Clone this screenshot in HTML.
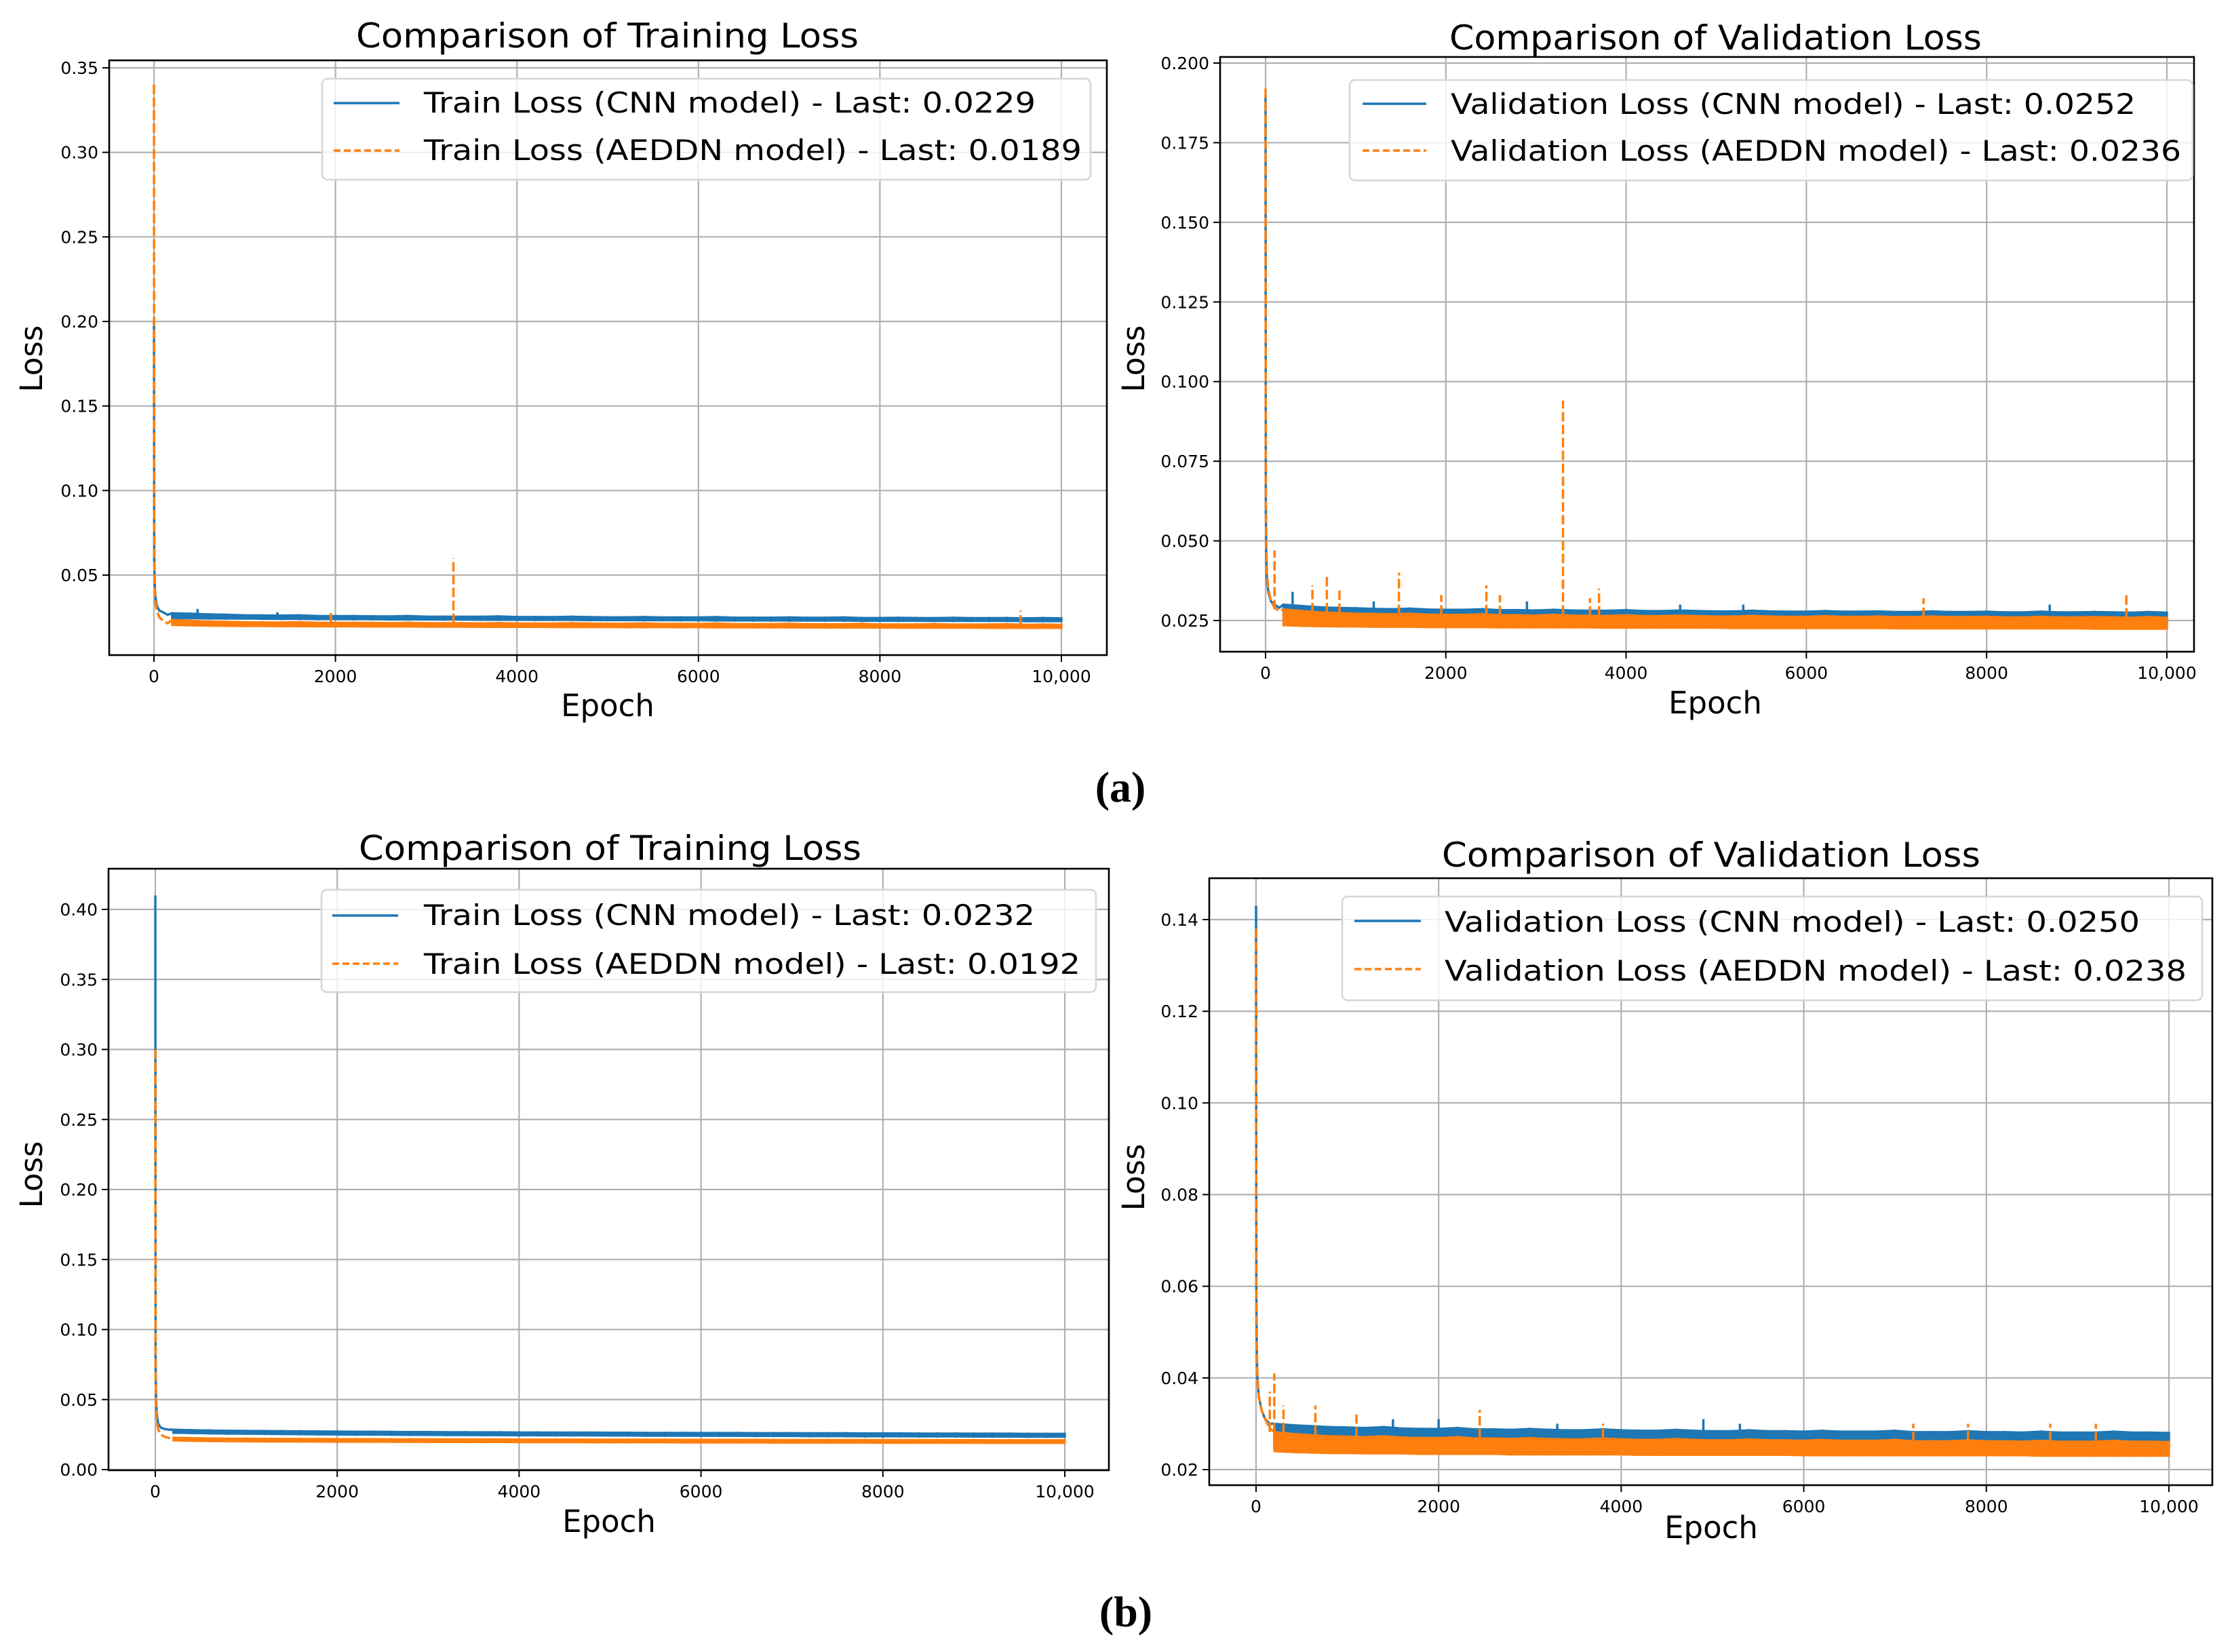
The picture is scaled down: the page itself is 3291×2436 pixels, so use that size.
<!DOCTYPE html>
<html><head><meta charset="utf-8"><style>
html,body{margin:0;padding:0;background:#fff;}
svg{display:block;font-family:"DejaVu Sans","Liberation Sans",sans-serif;}
</style></head><body>
<svg id="fig" width="3291" height="2436" viewBox="0 0 3291 2436" xmlns="http://www.w3.org/2000/svg">
<rect width="3291" height="2436" fill="#fff"/>
<text x="1652" y="1182" font-family="Liberation Serif,serif" font-weight="bold" font-size="64" text-anchor="middle">(a)</text>
<text x="1660" y="2398" font-family="Liberation Serif,serif" font-weight="bold" font-size="64" text-anchor="middle">(b)</text>
</svg>
<script>
// ---------- shared tick values ----------
const xTicks = [0, 2000, 4000, 6000, 8000, 10000];
const xTickLabels = ["0", "2000", "4000", "6000", "8000", "10,000"];
const headEpochs = [0, 3, 8, 15, 30, 60, 100, 150];
const bandEpochs = [200,400,600,800,1000,1200,1400,1600,1800,2000,2200,2400,2600,2800,3000,3200,3400,3600,3800,4000,4200,4400,4600,4800,5000,5200,5400,5600,5800,6000,6200,6400,6600,6800,7000,7200,7400,7600,7800,8000,8200,8400,8600,8800,9000,9200,9400,9600,9800,10000];

// ---------- (a) training ----------
const aTrainYTicks = [0.05, 0.10, 0.15, 0.20, 0.25, 0.30, 0.35];
const aTrainYLabels = ["0.05", "0.10", "0.15", "0.20", "0.25", "0.30", "0.35"];
const aTrainCnnHead = [0.20, 0.06, 0.045, 0.038, 0.032, 0.029, 0.028, 0.0265];
const aTrainAeHead = [0.34, 0.08, 0.045, 0.035, 0.029, 0.025, 0.023, 0.0215];
const aTrainCnnLo = [0.0245,0.0244,0.0243,0.0242,0.0242,0.0241,0.0240,0.0240,0.0239,0.0239,0.0238,0.0238,0.0237,0.0237,0.0237,0.0236,0.0236,0.0235,0.0235,0.0235,0.0234,0.0234,0.0234,0.0233,0.0233,0.0233,0.0232,0.0232,0.0232,0.0232,0.0231,0.0231,0.0231,0.0231,0.0230,0.0230,0.0230,0.0230,0.0229,0.0229,0.0229,0.0229,0.0228,0.0228,0.0228,0.0228,0.0228,0.0227,0.0227,0.0227];
const aTrainCnnHi = [0.0275,0.0272,0.0268,0.0266,0.0263,0.0262,0.0261,0.0263,0.0259,0.0258,0.0258,0.0257,0.0256,0.0259,0.0255,0.0255,0.0254,0.0254,0.0256,0.0253,0.0253,0.0252,0.0254,0.0252,0.0251,0.0251,0.0253,0.0250,0.0250,0.0250,0.0252,0.0249,0.0249,0.0249,0.0250,0.0248,0.0248,0.0250,0.0247,0.0247,0.0248,0.0247,0.0246,0.0248,0.0246,0.0246,0.0247,0.0245,0.0247,0.0245];
const aTrainAeLo = [0.0205,0.0202,0.0200,0.0199,0.0198,0.0198,0.0197,0.0197,0.0196,0.0196,0.0196,0.0195,0.0195,0.0195,0.0194,0.0194,0.0194,0.0193,0.0193,0.0193,0.0193,0.0192,0.0192,0.0192,0.0192,0.0191,0.0191,0.0191,0.0191,0.0191,0.0190,0.0190,0.0190,0.0190,0.0190,0.0189,0.0189,0.0189,0.0189,0.0189,0.0188,0.0188,0.0188,0.0188,0.0188,0.0187,0.0187,0.0187,0.0187,0.0187];
const aTrainAeHi = [0.0235,0.0230,0.0226,0.0224,0.0222,0.0221,0.0220,0.0222,0.0219,0.0219,0.0218,0.0218,0.0217,0.0219,0.0216,0.0216,0.0216,0.0215,0.0217,0.0215,0.0214,0.0214,0.0216,0.0214,0.0213,0.0213,0.0215,0.0212,0.0212,0.0212,0.0214,0.0211,0.0211,0.0211,0.0213,0.0210,0.0210,0.0210,0.0212,0.0209,0.0209,0.0209,0.0211,0.0208,0.0208,0.0208,0.0210,0.0207,0.0208,0.0207];
const aTrainAeSpikeEpochs = [1950, 3300, 9550];
const aTrainAeSpikeVals = [0.028, 0.060, 0.029];
const aTrainCnnSpikeEpochs = [480, 1360];
const aTrainCnnSpikeVals = [0.030, 0.028];

// ---------- (a) validation ----------
const aValYTicks = [0.025, 0.050, 0.075, 0.100, 0.125, 0.150, 0.175, 0.200];
const aValYLabels = ["0.025", "0.050", "0.075", "0.100", "0.125", "0.150", "0.175", "0.200"];
const aValCnnHead = [0.19, 0.06, 0.045, 0.038, 0.034, 0.031, 0.030, 0.029];
const aValAeHead = [0.192, 0.07, 0.05, 0.04, 0.035, 0.031, 0.029, 0.028];
const aValCnnLo = [0.0250,0.0248,0.0247,0.0246,0.0246,0.0245,0.0245,0.0244,0.0244,0.0244,0.0243,0.0243,0.0243,0.0243,0.0242,0.0242,0.0242,0.0242,0.0242,0.0241,0.0241,0.0241,0.0241,0.0241,0.0241,0.0240,0.0240,0.0240,0.0240,0.0240,0.0240,0.0240,0.0240,0.0239,0.0239,0.0239,0.0239,0.0239,0.0239,0.0239,0.0239,0.0239,0.0239,0.0238,0.0238,0.0238,0.0238,0.0238,0.0238,0.0238];
const aValCnnHi = [0.0300,0.0296,0.0292,0.0290,0.0289,0.0287,0.0286,0.0288,0.0285,0.0284,0.0284,0.0286,0.0283,0.0283,0.0282,0.0284,0.0282,0.0281,0.0281,0.0283,0.0280,0.0280,0.0282,0.0280,0.0279,0.0279,0.0281,0.0279,0.0278,0.0278,0.0280,0.0278,0.0278,0.0279,0.0277,0.0277,0.0279,0.0277,0.0277,0.0278,0.0276,0.0276,0.0278,0.0276,0.0276,0.0277,0.0276,0.0275,0.0277,0.0275];
const aValAeLo = [0.0235,0.0233,0.0232,0.0231,0.0231,0.0230,0.0230,0.0230,0.0229,0.0229,0.0229,0.0229,0.0228,0.0228,0.0228,0.0228,0.0228,0.0228,0.0227,0.0227,0.0227,0.0227,0.0227,0.0227,0.0227,0.0226,0.0226,0.0226,0.0226,0.0226,0.0226,0.0226,0.0226,0.0226,0.0225,0.0225,0.0225,0.0225,0.0225,0.0225,0.0225,0.0225,0.0225,0.0225,0.0225,0.0224,0.0224,0.0224,0.0224,0.0224];
const aValAeHi = [0.0285,0.0280,0.0276,0.0274,0.0272,0.0271,0.0270,0.0272,0.0269,0.0268,0.0268,0.0270,0.0267,0.0267,0.0266,0.0268,0.0266,0.0265,0.0265,0.0267,0.0264,0.0264,0.0266,0.0264,0.0263,0.0263,0.0265,0.0263,0.0262,0.0262,0.0264,0.0262,0.0262,0.0263,0.0261,0.0261,0.0263,0.0261,0.0261,0.0262,0.0260,0.0260,0.0262,0.0260,0.0260,0.0261,0.0260,0.0259,0.0261,0.0259];
const aValAeSpikeEpochs = [100, 520, 680, 820, 1480, 1950, 2450, 2600, 3300, 3600, 3700, 7300, 9550];
const aValAeSpikeVals = [0.047, 0.036, 0.039, 0.035, 0.040, 0.033, 0.036, 0.033, 0.094, 0.032, 0.035, 0.032, 0.033];
const aValCnnSpikeEpochs = [300, 1200, 2900, 4600, 5300, 8700];
const aValCnnSpikeVals = [0.034, 0.031, 0.031, 0.030, 0.030, 0.030];

// ---------- (b) training ----------
const bTrainYTicks = [0.00, 0.05, 0.10, 0.15, 0.20, 0.25, 0.30, 0.35, 0.40];
const bTrainYLabels = ["0.00", "0.05", "0.10", "0.15", "0.20", "0.25", "0.30", "0.35", "0.40"];
const bTrainCnnHead = [0.41, 0.08, 0.05, 0.04, 0.033, 0.030, 0.029, 0.0285];
const bTrainAeHead = [0.30, 0.07, 0.045, 0.035, 0.029, 0.025, 0.0235, 0.0225];
const bTrainCnnLo = [0.0262,0.0260,0.0258,0.0256,0.0255,0.0254,0.0253,0.0252,0.0251,0.0250,0.0249,0.0249,0.0248,0.0247,0.0247,0.0246,0.0246,0.0245,0.0245,0.0244,0.0244,0.0243,0.0243,0.0243,0.0242,0.0242,0.0241,0.0241,0.0241,0.0240,0.0240,0.0240,0.0239,0.0239,0.0239,0.0238,0.0238,0.0238,0.0237,0.0237,0.0237,0.0236,0.0236,0.0236,0.0235,0.0235,0.0235,0.0234,0.0234,0.0234];
const bTrainCnnHi = [0.0285,0.0282,0.0280,0.0278,0.0277,0.0276,0.0275,0.0274,0.0273,0.0272,0.0271,0.0271,0.0270,0.0269,0.0269,0.0268,0.0268,0.0267,0.0267,0.0266,0.0266,0.0265,0.0265,0.0265,0.0264,0.0264,0.0263,0.0263,0.0263,0.0262,0.0262,0.0262,0.0261,0.0261,0.0261,0.0260,0.0260,0.0260,0.0259,0.0259,0.0259,0.0258,0.0258,0.0258,0.0257,0.0257,0.0257,0.0256,0.0256,0.0256];
const bTrainAeLo = [0.0208,0.0205,0.0203,0.0202,0.0201,0.0200,0.0200,0.0199,0.0199,0.0198,0.0198,0.0198,0.0197,0.0197,0.0197,0.0196,0.0196,0.0196,0.0196,0.0195,0.0195,0.0195,0.0195,0.0194,0.0194,0.0194,0.0194,0.0194,0.0193,0.0193,0.0193,0.0193,0.0193,0.0192,0.0192,0.0192,0.0192,0.0192,0.0192,0.0191,0.0191,0.0191,0.0191,0.0191,0.0191,0.0190,0.0190,0.0190,0.0190,0.0190];
const bTrainAeHi = [0.0228,0.0225,0.0223,0.0222,0.0221,0.0220,0.0220,0.0219,0.0219,0.0218,0.0218,0.0218,0.0217,0.0217,0.0217,0.0216,0.0216,0.0216,0.0216,0.0215,0.0215,0.0215,0.0215,0.0214,0.0214,0.0214,0.0214,0.0214,0.0213,0.0213,0.0213,0.0213,0.0213,0.0212,0.0212,0.0212,0.0212,0.0212,0.0212,0.0211,0.0211,0.0211,0.0211,0.0211,0.0211,0.0210,0.0210,0.0210,0.0210,0.0210];
const bTrainAeSpikeEpochs = [];
const bTrainAeSpikeVals = [];
const bTrainCnnSpikeEpochs = [];
const bTrainCnnSpikeVals = [];

// ---------- (b) validation ----------
const bValYTicks = [0.02, 0.04, 0.06, 0.08, 0.10, 0.12, 0.14];
const bValYLabels = ["0.02", "0.04", "0.06", "0.08", "0.10", "0.12", "0.14"];
const bValCnnHead = [0.143, 0.06, 0.045, 0.040, 0.036, 0.033, 0.031, 0.030];
const bValAeHead = [0.138, 0.05, 0.046, 0.040, 0.036, 0.033, 0.031, 0.029];
const bValCnnLo = [0.0255,0.0253,0.0252,0.0251,0.0250,0.0250,0.0249,0.0249,0.0249,0.0248,0.0248,0.0248,0.0248,0.0247,0.0247,0.0247,0.0247,0.0247,0.0246,0.0246,0.0246,0.0246,0.0246,0.0246,0.0246,0.0245,0.0245,0.0245,0.0245,0.0245,0.0245,0.0245,0.0245,0.0245,0.0245,0.0244,0.0244,0.0244,0.0244,0.0244,0.0244,0.0244,0.0244,0.0244,0.0244,0.0244,0.0244,0.0244,0.0244,0.0244];
const bValCnnHi = [0.0300,0.0297,0.0295,0.0293,0.0292,0.0291,0.0293,0.0290,0.0289,0.0289,0.0291,0.0288,0.0288,0.0287,0.0289,0.0287,0.0286,0.0286,0.0288,0.0286,0.0285,0.0285,0.0287,0.0285,0.0284,0.0284,0.0286,0.0284,0.0284,0.0283,0.0285,0.0283,0.0283,0.0283,0.0285,0.0282,0.0282,0.0282,0.0284,0.0282,0.0282,0.0281,0.0283,0.0281,0.0281,0.0281,0.0283,0.0281,0.0281,0.0280];
const bValAeLo = [0.0240,0.0238,0.0237,0.0236,0.0236,0.0235,0.0235,0.0235,0.0234,0.0234,0.0234,0.0234,0.0234,0.0233,0.0233,0.0233,0.0233,0.0233,0.0233,0.0233,0.0232,0.0232,0.0232,0.0232,0.0232,0.0232,0.0232,0.0232,0.0232,0.0231,0.0231,0.0231,0.0231,0.0231,0.0231,0.0231,0.0231,0.0231,0.0231,0.0231,0.0231,0.0231,0.0230,0.0230,0.0230,0.0230,0.0230,0.0230,0.0230,0.0230];
const bValAeHi = [0.0282,0.0278,0.0275,0.0273,0.0272,0.0271,0.0273,0.0270,0.0269,0.0269,0.0271,0.0268,0.0268,0.0267,0.0269,0.0267,0.0266,0.0266,0.0268,0.0266,0.0265,0.0265,0.0267,0.0265,0.0264,0.0264,0.0266,0.0264,0.0264,0.0263,0.0265,0.0263,0.0263,0.0263,0.0265,0.0262,0.0262,0.0262,0.0264,0.0262,0.0262,0.0261,0.0263,0.0261,0.0261,0.0261,0.0263,0.0261,0.0261,0.0260];
const bValAeSpikeEpochs = [150, 200, 300, 650, 1100, 2450, 3800, 7200, 7800, 8700, 9200];
const bValAeSpikeVals = [0.037, 0.041, 0.034, 0.034, 0.032, 0.033, 0.030, 0.030, 0.030, 0.030, 0.030];
const bValCnnSpikeEpochs = [1500, 2000, 3300, 4900, 5300];
const bValCnnSpikeVals = [0.031, 0.031, 0.030, 0.031, 0.030];

const NS = "http://www.w3.org/2000/svg";
const fig = document.getElementById("fig");
function mk(tag, attrs, parent) {
  const e = document.createElementNS(NS, tag);
  for (const k in attrs) e.setAttribute(k, attrs[k]);
  (parent || fig).appendChild(e);
  return e;
}
function nearestIdx(e) {
  let best = 0;
  bandEpochs.forEach((b, i) => { if (Math.abs(b - e) < Math.abs(bandEpochs[best] - e)) best = i; });
  return best;
}

function drawChart(c) {
  const g = mk("g", {});
  
  
  const X = e => c.x0 + (e / 10000) * (c.x1 - c.x0);
  const Y = v => c.yA + (v - c.vA) / (c.vB - c.vA) * (c.yB - c.yA);
  xTicks.forEach((t, i) => {
    const gl = mk("line", {x1: X(t), x2: X(t), y1: c.top, y2: c.bottom, stroke: "#b0b0b0", "stroke-width": 2.2}, g);
    
    
    mk("line", {x1: X(t), x2: X(t), y1: c.bottom, y2: c.bottom + 10, stroke: "#000", "stroke-width": 2}, g);
    const tl = mk("text", {x: X(t), y: c.bottom + 40, "font-size": 25, "text-anchor": "middle", fill: "#000"}, g);
    tl.textContent = xTickLabels[i];
    
    
  });
  c.yTicks.forEach((t, i) => {
    const gl = mk("line", {x1: c.left, x2: c.right, y1: Y(t), y2: Y(t), stroke: "#b0b0b0", "stroke-width": 2.2}, g);
    
    
    mk("line", {x1: c.left - 10, x2: c.left, y1: Y(t), y2: Y(t), stroke: "#000", "stroke-width": 2}, g);
    const tl = mk("text", {x: c.left - 16, y: Y(t) + 9, "font-size": 25, "text-anchor": "end", fill: "#000"}, g);
    tl.textContent = c.yLabels[i];
    
    
  });
  const series = [
    {head: c.cnnHead, lo: c.cnnLo, hi: c.cnnHi, se: c.cnnSE, sv: c.cnnSV, color: "#1f77b4", dash: "none", name: "cnn-loss-line"},
    {head: c.aeHead, lo: c.aeLo, hi: c.aeHi, se: c.aeSE, sv: c.aeSV, color: "#ff7f0e", dash: "14,5", name: "aeddn-loss-line"}
  ];
  series.forEach(s => {
    let d = "";
    headEpochs.forEach((e, i) => { d += (i ? " L" : "M") + X(e).toFixed(1) + " " + Y(s.head[i]).toFixed(1); });
    bandEpochs.forEach((e, i) => {
      d += " L" + X(e).toFixed(1) + " " + Y(s.hi[i]).toFixed(1);
      d += " L" + X(e).toFixed(1) + " " + Y(s.lo[i]).toFixed(1);
    });
    const p = mk("path", {d: d, fill: "none", stroke: s.color, "stroke-width": 3.5, "stroke-dasharray": s.dash, "stroke-linejoin": "round"}, g);
    
    
    let bd = "";
    bandEpochs.forEach((e, i) => { bd += (i ? " L" : "M") + X(e).toFixed(1) + " " + Y(s.lo[i]).toFixed(1); });
    for (let i = bandEpochs.length - 1; i >= 0; i--) bd += " L" + X(bandEpochs[i]).toFixed(1) + " " + Y(s.hi[i]).toFixed(1);
    const b = mk("path", {d: bd + " Z", fill: s.color, stroke: s.color, "stroke-width": 3}, g);
    
    
    s.se.forEach((e, i) => {
      const base = s.hi[nearestIdx(e)];
      const sp = mk("line", {x1: X(e), x2: X(e), y1: Y(base), y2: Y(s.sv[i]), stroke: s.color, "stroke-width": 3.5, "stroke-dasharray": s.dash}, g);
      
      
    });
  });
  const fr = mk("rect", {x: c.left, y: c.top, width: c.right - c.left, height: c.bottom - c.top, fill: "none", stroke: "#000", "stroke-width": 2.6}, g);
  
  
  const ti = mk("text", {x: c.title[0], y: c.title[1], "font-size": 50, textLength: c.title[2], lengthAdjust: "spacingAndGlyphs", fill: "#000"}, g);
  ti.textContent = c.titleText;
  
  
  const xl = mk("text", {x: c.xlab[0], y: c.xlab[1], "font-size": 45, "text-anchor": "middle", fill: "#000"}, g);
  xl.textContent = "Epoch";
  
  
  const yl = mk("text", {x: 0, y: 0, "font-size": 45, "text-anchor": "middle", fill: "#000", transform: "translate(" + c.ylab[0] + "," + c.ylab[1] + ") rotate(-90)"}, g);
  yl.textContent = "Loss";
  
  
  const L = c.legend;
  const lg = mk("g", {}, g);
  
  
  mk("rect", {x: L.x, y: L.y, width: L.w, height: L.h, rx: 8, fill: "rgba(255,255,255,0.8)", stroke: "#d6d6d6", "stroke-width": 2.5}, lg);
  const entries = [
    {t: c.leg1, c: "#1f77b4", dash: "none", ly: L.l1, ty: L.t1, tl: L.w1},
    {t: c.leg2, c: "#ff7f0e", dash: "10,5", ly: L.l2, ty: L.t2, tl: L.w2}
  ];
  entries.forEach((en, i) => {
    const le = mk("g", {}, lg);
    
    
    mk("line", {x1: L.sx0, x2: L.sx1, y1: en.ly, y2: en.ly, stroke: en.c, "stroke-width": 3.5, "stroke-dasharray": en.dash}, le);
    const tx = mk("text", {x: L.tx, y: en.ty, "font-size": 42, textLength: en.tl, lengthAdjust: "spacingAndGlyphs", fill: "#000"}, le);
    tx.textContent = en.t;
  });
}

drawChart({name: "chart-a-training", left: 161, right: 1632, top: 89, bottom: 966,
  x0: 227, x1: 1565, vA: 0.35, yA: 100, vB: 0.05, yB: 848,
  yTicks: aTrainYTicks, yLabels: aTrainYLabels,
  cnnHead: aTrainCnnHead, cnnLo: aTrainCnnLo, cnnHi: aTrainCnnHi, cnnSE: aTrainCnnSpikeEpochs, cnnSV: aTrainCnnSpikeVals,
  aeHead: aTrainAeHead, aeLo: aTrainAeLo, aeHi: aTrainAeHi, aeSE: aTrainAeSpikeEpochs, aeSV: aTrainAeSpikeVals,
  titleText: "Comparison of Training Loss", title: [525, 70, 741], xlab: [896, 1056], ylab: [62, 529],
  leg1: "Train Loss (CNN model) - Last: 0.0229", leg2: "Train Loss (AEDDN model) - Last: 0.0189",
  legend: {x: 475, y: 116, w: 1133, h: 149, sx0: 492, sx1: 589, l1: 152, l2: 222, tx: 625, t1: 166, t2: 236, w1: 902, w2: 970}
});
drawChart({name: "chart-a-validation", left: 1799, right: 3235, top: 84, bottom: 961,
  x0: 1866, x1: 3195, vA: 0.200, yA: 93, vB: 0.025, yB: 915,
  yTicks: aValYTicks, yLabels: aValYLabels,
  cnnHead: aValCnnHead, cnnLo: aValCnnLo, cnnHi: aValCnnHi, cnnSE: aValCnnSpikeEpochs, cnnSV: aValCnnSpikeVals,
  aeHead: aValAeHead, aeLo: aValAeLo, aeHi: aValAeHi, aeSE: aValAeSpikeEpochs, aeSV: aValAeSpikeVals,
  titleText: "Comparison of Validation Loss", title: [2137, 73, 785], xlab: [2529, 1052], ylab: [1687, 529],
  leg1: "Validation Loss (CNN model) - Last: 0.0252", leg2: "Validation Loss (AEDDN model) - Last: 0.0236",
  legend: {x: 1990, y: 118, w: 1243, h: 148, sx0: 2009, sx1: 2103, l1: 153, l2: 222, tx: 2139, t1: 168, t2: 237, w1: 1010, w2: 1077}
});
drawChart({name: "chart-b-training", left: 160, right: 1635, top: 1281, bottom: 2168,
  x0: 229, x1: 1570, vA: 0.40, yA: 1341, vB: 0.00, yB: 2167,
  yTicks: bTrainYTicks, yLabels: bTrainYLabels,
  cnnHead: bTrainCnnHead, cnnLo: bTrainCnnLo, cnnHi: bTrainCnnHi, cnnSE: bTrainCnnSpikeEpochs, cnnSV: bTrainCnnSpikeVals,
  aeHead: bTrainAeHead, aeLo: bTrainAeLo, aeHi: bTrainAeHi, aeSE: bTrainAeSpikeEpochs, aeSV: bTrainAeSpikeVals,
  titleText: "Comparison of Training Loss", title: [529, 1268, 741], xlab: [898, 2259], ylab: [62, 1732],
  leg1: "Train Loss (CNN model) - Last: 0.0232", leg2: "Train Loss (AEDDN model) - Last: 0.0192",
  legend: {x: 474, y: 1312, w: 1142, h: 151, sx0: 490, sx1: 587, l1: 1350, l2: 1421, tx: 625, t1: 1364, t2: 1436, w1: 901, w2: 968}
});
drawChart({name: "chart-b-validation", left: 1783, right: 3262, top: 1295, bottom: 2190,
  x0: 1852, x1: 3198, vA: 0.14, yA: 1356, vB: 0.02, yB: 2167,
  yTicks: bValYTicks, yLabels: bValYLabels,
  cnnHead: bValCnnHead, cnnLo: bValCnnLo, cnnHi: bValCnnHi, cnnSE: bValCnnSpikeEpochs, cnnSV: bValCnnSpikeVals,
  aeHead: bValAeHead, aeLo: bValAeLo, aeHi: bValAeHi, aeSE: bValAeSpikeEpochs, aeSV: bValAeSpikeVals,
  titleText: "Comparison of Validation Loss", title: [2126, 1278, 794], xlab: [2523, 2268], ylab: [1687, 1736],
  leg1: "Validation Loss (CNN model) - Last: 0.0250", leg2: "Validation Loss (AEDDN model) - Last: 0.0238",
  legend: {x: 1979, y: 1322, w: 1268, h: 153, sx0: 1997, sx1: 2095, l1: 1358, l2: 1429, tx: 2130, t1: 1374, t2: 1446, w1: 1025, w2: 1094}
});
</script>
</body></html>
